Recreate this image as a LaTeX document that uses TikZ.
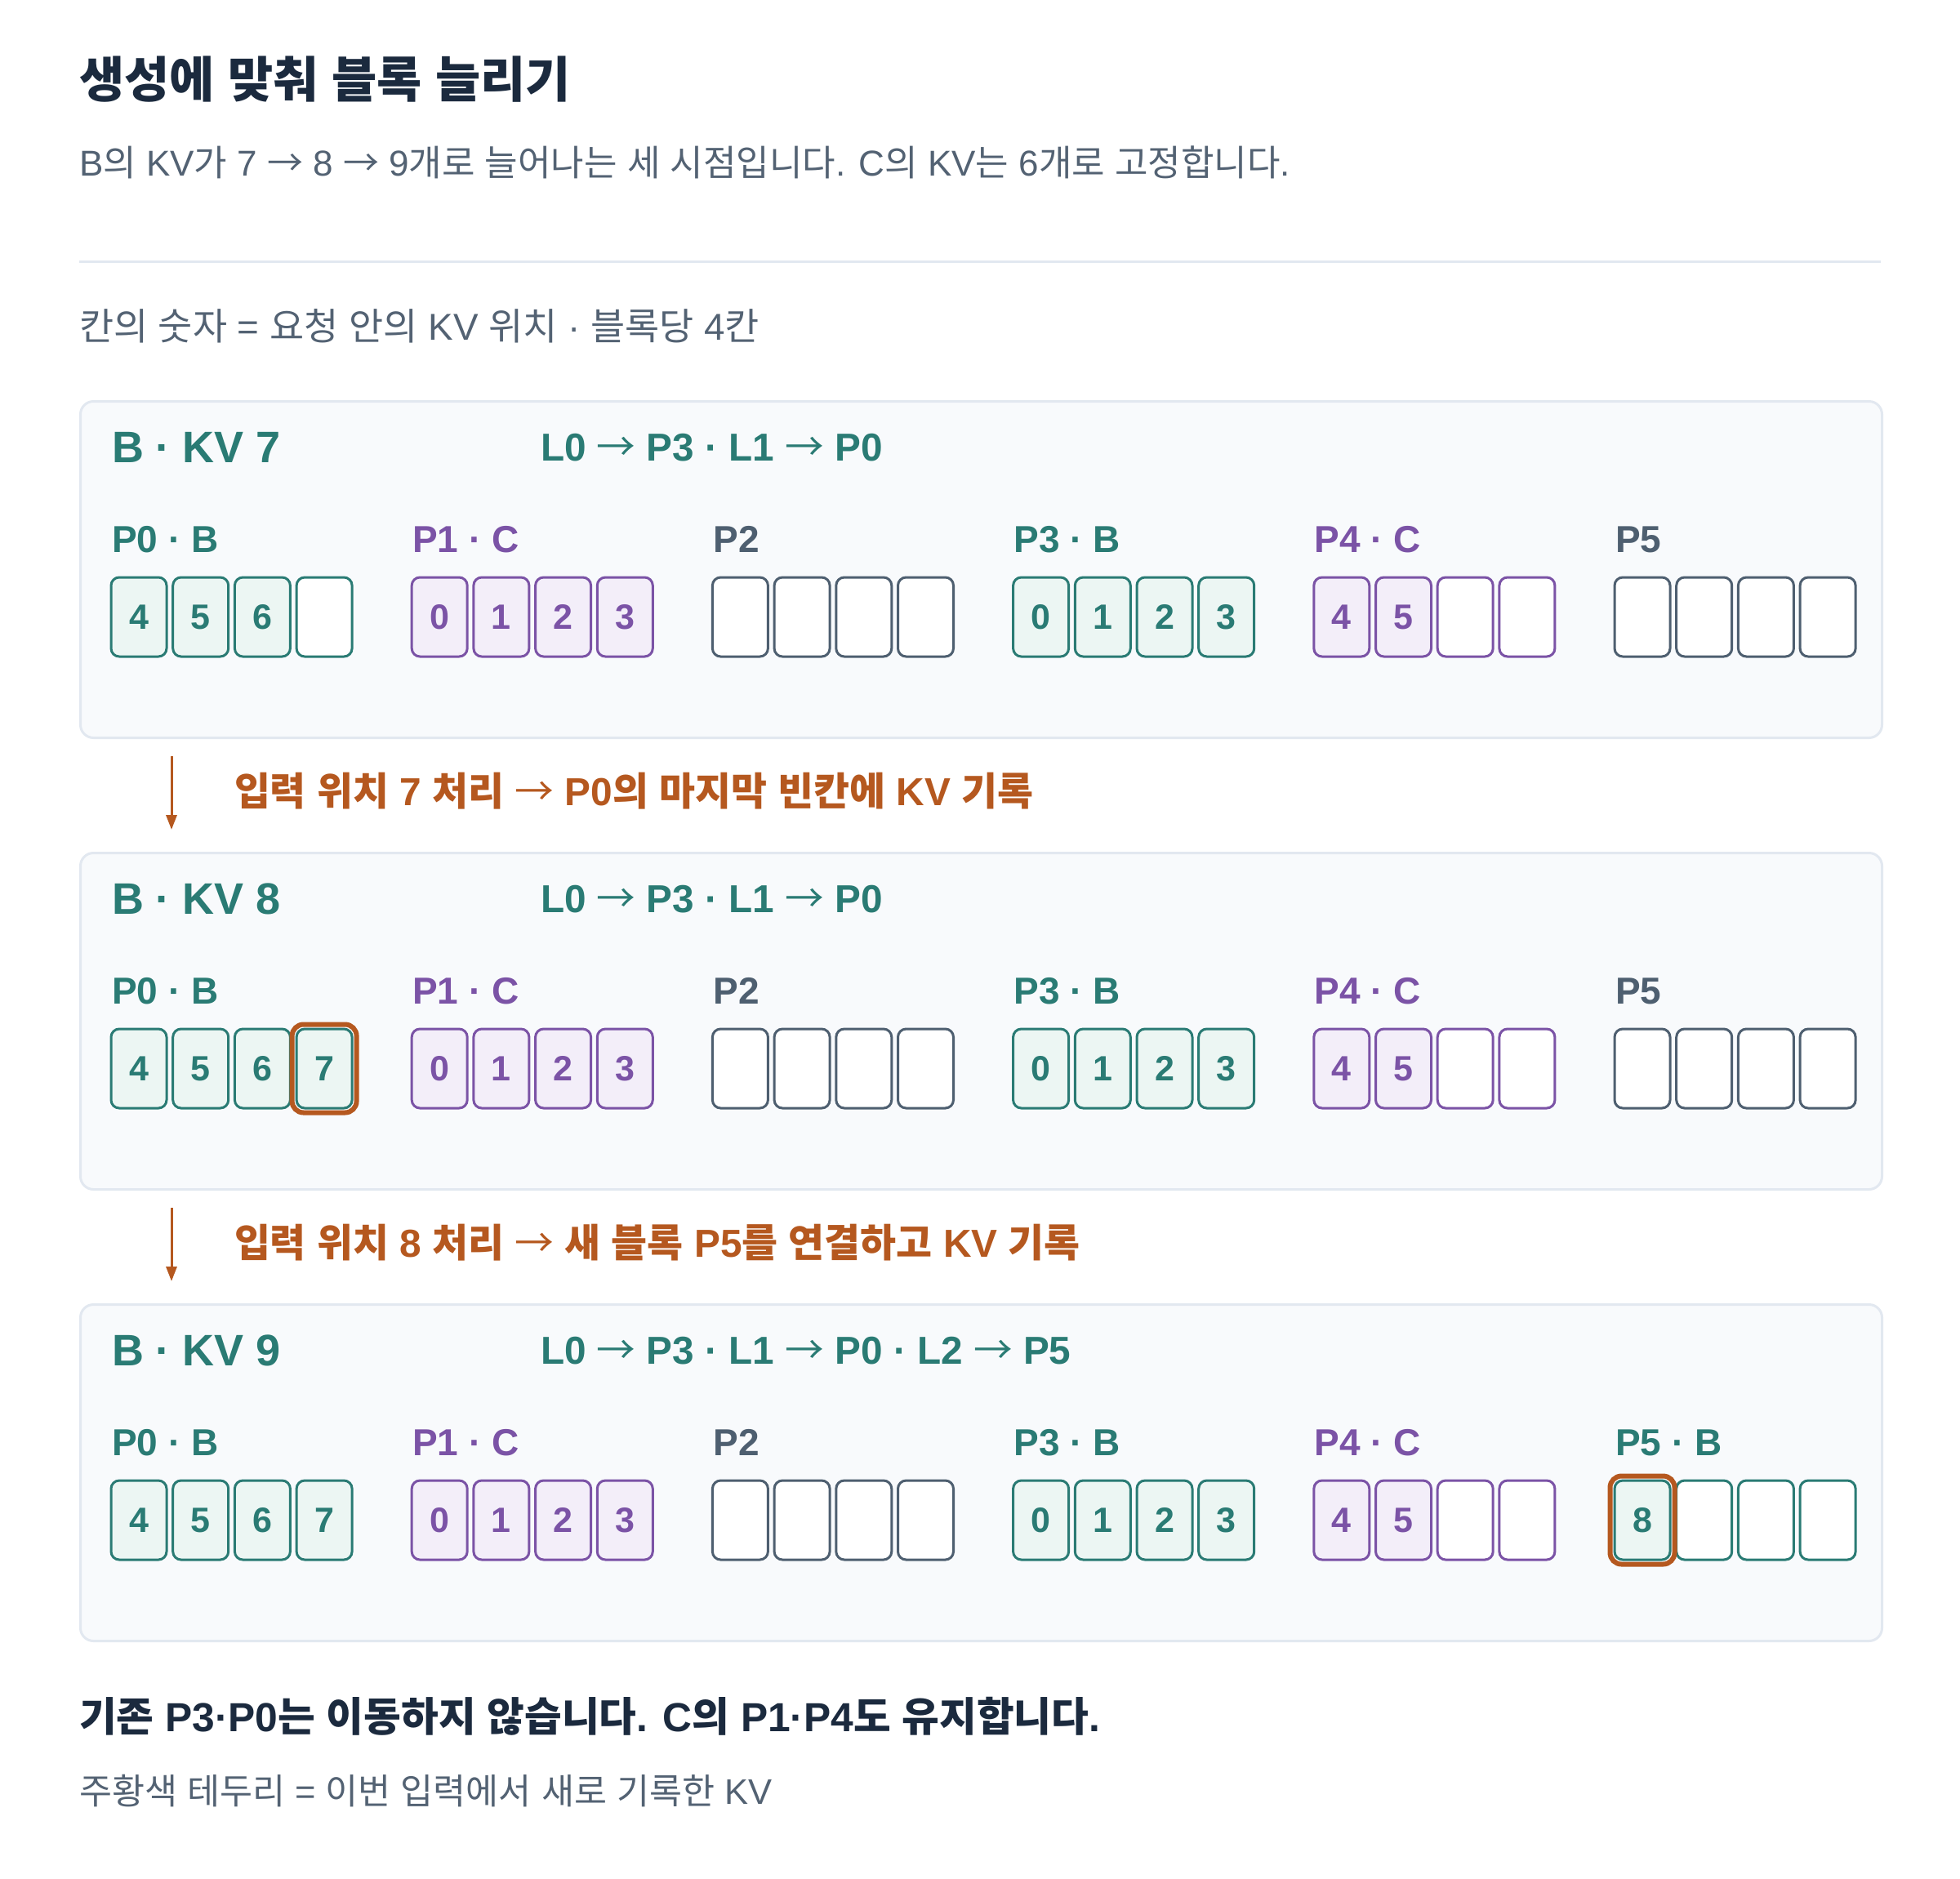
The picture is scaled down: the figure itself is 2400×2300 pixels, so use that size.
\documentclass[tikz,border=0pt]{standalone}
\usepackage{fontspec}
\usetikzlibrary{arrows.meta,fit}
\setmainfont{Liberation Sans}
\newfontfamily\krfont{Noto Sans CJK KR}
\XeTeXinterchartokenstate=1
\newXeTeXintercharclass\HangulCls
\newXeTeXintercharclass\ArrowCls
\count255="AC00
\loop\XeTeXcharclass\count255=\HangulCls
\ifnum\count255<"D7A3 \advance\count255 by 1 \repeat
\XeTeXcharclass"2192=\ArrowCls
\XeTeXinterchartoks 0 \HangulCls={\begingroup\krfont}
\XeTeXinterchartoks 4095 \HangulCls={\begingroup\krfont}
\XeTeXinterchartoks \HangulCls 0={\endgroup}
\XeTeXinterchartoks \HangulCls 4095={\endgroup}
\XeTeXinterchartoks 0 \ArrowCls={\begingroup\krfont\mdseries}
\XeTeXinterchartoks 4095 \ArrowCls={\begingroup\krfont\mdseries}
\XeTeXinterchartoks \ArrowCls 0={\endgroup}
\XeTeXinterchartoks \ArrowCls 4095={\endgroup}

\definecolor{navyc}{HTML}{1B2A3E}
\definecolor{slatec}{HTML}{536273}
\definecolor{linec}{HTML}{E2E8F0}
\definecolor{panelbg}{HTML}{F8FAFC}
\definecolor{tealc}{HTML}{2A7B74}
\definecolor{tealbg}{HTML}{ECF6F3}
\definecolor{purpc}{HTML}{7B53A6}
\definecolor{purpbg}{HTML}{F3EEF9}
\definecolor{grayc}{HTML}{4E5F70}
\definecolor{orangec}{HTML}{B5581F}

\tikzset{
  txt/.style={inner sep=0, outer sep=0, anchor=base west},
  titlest/.style={txt, text=navyc, font=\fontsize{60}{62}\selectfont\bfseries},
  subst/.style={txt, text=slatec, font=\fontsize{44}{46}\selectfont},
  legst/.style={txt, text=slatec, font=\fontsize{45.8}{47}\selectfont},
  keyst/.style={txt, text=slatec, font=\fontsize{43.5}{45}\selectfont},
  headst/.style={txt, text=tealc, font=\fontsize{54}{56}\selectfont\bfseries},
  routest/.style={txt, text=tealc, font=\fontsize{47.7}{50}\selectfont\bfseries},
  blabel/.style={txt, font=\fontsize{46}{48}\selectfont\bfseries},
  steplab/.style={txt, text=orangec, font=\fontsize{47.8}{49}\selectfont\bfseries},
  notest/.style={txt, text=navyc, font=\fontsize{49.7}{51}\selectfont\bfseries},
  panelst/.style={draw=linec, fill=panelbg, line width=3, rounded corners=16,
    anchor=north west, minimum width=2206, minimum height=412, inner sep=0},
  cellbase/.style={line width=3, rounded corners=10, minimum width=68,
    minimum height=97, inner sep=0, outer sep=0, anchor=north west,
    font=\fontsize{43}{43}\selectfont\bfseries},
  tF/.style={cellbase, draw=tealc, fill=tealbg, text=tealc},
  tE/.style={cellbase, draw=tealc, fill=white},
  pF/.style={cellbase, draw=purpc, fill=purpbg, text=purpc},
  pE/.style={cellbase, draw=purpc, fill=white},
  gE/.style={cellbase, draw=grayc, fill=white},
  hlring/.style={draw=orangec, line width=6, rounded corners=14, inner sep=5.5},
  flowarrow/.style={draw=orangec, line width=3, -{Triangle[length=18,width=13]}},
}

\newcommand\kvblock[5]{%
  \pgfmathsetmacro\bx{136+368.2*#2}%
  \pgfmathsetmacro\by{707+553*#1}%
  \node[blabel, text=#3] (L-#1-#2) at (\bx+1,\by-31) {#4};
  \foreach \st/\v [count=\i from 0] in {#5} {
    \node[\st] (C-#1-#2-\i) at (\bx+75.7*\i,\by) {\v};
  }
}

\begin{document}
\begin{tikzpicture}[x=1pt,y=-1pt]
\fill[white] (0,0) rectangle (2400,2300);
\useasboundingbox (0,0) rectangle (2400,2300);

\node[titlest] (title) at (97,119) {생성에 맞춰 블록 늘리기};
\node[subst] (subtitle) at (97,215) {B의 KV가 7 → 8 → 9개로 늘어나는 세 시점입니다. C의 KV는 6개로 고정합니다.};
\coordinate (RL) at (97,320);
\coordinate (RR) at (2303,320);
\draw[linec, line width=3] (RL) -- (RR);
\node[legst] (legend) at (97,416) {칸의 숫자 = 요청 안의 KV 위치 · 블록당 4칸};

% panels
\node[panelst] (PN0) at (97,490) {};
\node[panelst] (PN1) at (97,1043) {};
\node[panelst] (PN2) at (97,1596) {};

% panel 0
\node[headst] (H0) at (137,566) {B · KV 7};
\node[routest] (R0) at (662,564) {L0 → P3 · L1 → P0};
\kvblock{0}{0}{tealc}{P0 · B}{tF/4,tF/5,tF/6,tE/{}}
\kvblock{0}{1}{purpc}{P1 · C}{pF/0,pF/1,pF/2,pF/3}
\kvblock{0}{2}{grayc}{P2}{gE/{},gE/{},gE/{},gE/{}}
\kvblock{0}{3}{tealc}{P3 · B}{tF/0,tF/1,tF/2,tF/3}
\kvblock{0}{4}{purpc}{P4 · C}{pF/4,pF/5,pE/{},pE/{}}
\kvblock{0}{5}{grayc}{P5}{gE/{},gE/{},gE/{},gE/{}}

% step 1
\coordinate (A0s) at (210,926);
\coordinate (A0e) at (210,1016);
\draw[flowarrow] (A0s) -- (A0e);
\node[steplab] (S0) at (287,986) {입력 위치 7 처리 → P0의 마지막 빈칸에 KV 기록};

% panel 1
\node[headst] (H1) at (137,1119) {B · KV 8};
\node[routest] (R1) at (662,1117) {L0 → P3 · L1 → P0};
\kvblock{1}{0}{tealc}{P0 · B}{tF/4,tF/5,tF/6,tF/7}
\kvblock{1}{1}{purpc}{P1 · C}{pF/0,pF/1,pF/2,pF/3}
\kvblock{1}{2}{grayc}{P2}{gE/{},gE/{},gE/{},gE/{}}
\kvblock{1}{3}{tealc}{P3 · B}{tF/0,tF/1,tF/2,tF/3}
\kvblock{1}{4}{purpc}{P4 · C}{pF/4,pF/5,pE/{},pE/{}}
\kvblock{1}{5}{grayc}{P5}{gE/{},gE/{},gE/{},gE/{}}
\node[hlring, fit=(C-1-0-3)] (HL1) {};

% step 2
\coordinate (A1s) at (210,1479);
\coordinate (A1e) at (210,1569);
\draw[flowarrow] (A1s) -- (A1e);
\node[steplab] (S1) at (287,1539) {입력 위치 8 처리 → 새 블록 P5를 연결하고 KV 기록};

% panel 2
\node[headst] (H2) at (137,1672) {B · KV 9};
\node[routest] (R2) at (662,1670) {L0 → P3 · L1 → P0 · L2 → P5};
\kvblock{2}{0}{tealc}{P0 · B}{tF/4,tF/5,tF/6,tF/7}
\kvblock{2}{1}{purpc}{P1 · C}{pF/0,pF/1,pF/2,pF/3}
\kvblock{2}{2}{grayc}{P2}{gE/{},gE/{},gE/{},gE/{}}
\kvblock{2}{3}{tealc}{P3 · B}{tF/0,tF/1,tF/2,tF/3}
\kvblock{2}{4}{purpc}{P4 · C}{pF/4,pF/5,pE/{},pE/{}}
\kvblock{2}{5}{tealc}{P5 · B}{tF/8,tE/{},tE/{},tE/{}}
\node[hlring, fit=(C-2-5-0)] (HL2) {};

% notes
\node[notest] (N1) at (97,2120) {기존 P3·P0는 이동하지 않습니다. C의 P1·P4도 유지합니다.};
\node[keyst] (N2) at (97,2209) {주황색 테두리 = 이번 입력에서 새로 기록한 KV};
\end{tikzpicture}
\end{document}
